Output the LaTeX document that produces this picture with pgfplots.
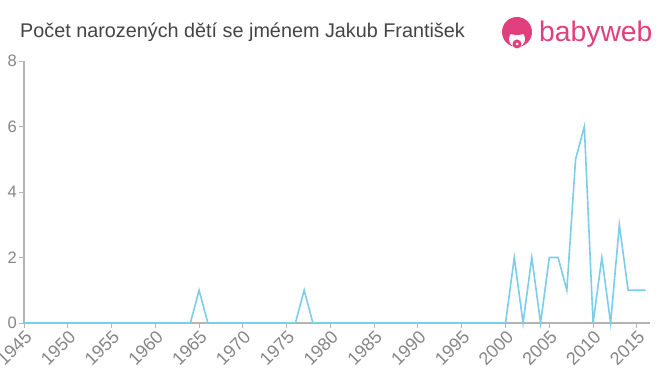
\documentclass[border=0pt]{standalone}
\usepackage{pgfplots}
\pgfplotsset{compat=1.18}
\usepackage{fontspec}
\setmainfont{Liberation Sans}
\definecolor{linec}{HTML}{7CCDEA}
\definecolor{axc}{HTML}{B4B4B4}
\definecolor{tickc}{HTML}{868686}
\definecolor{titc}{HTML}{444444}
\definecolor{pink}{HTML}{E0407E}
\newcommand\tf{\fontsize{18bp}{20bp}\selectfont}
\newcommand\yf{\fontsize{16.5bp}{18bp}\selectfont}
\begin{document}
\begin{tikzpicture}[x=1bp,y=1bp]
\begin{axis}[
  at={(24bp,52bp)}, anchor=south west,
  scale only axis, width=626bp, height=262bp,
  xmin=1945, xmax=2016.5, ymin=0, ymax=8,
  axis x line*=bottom, axis y line*=left,
  axis line style={axc, line width=1.2bp},
  xtick={1945,1950,...,2015}, ytick={0,2,4,6,8},
  xticklabels={{\tf 1945},{\tf 1950},{\tf 1955},{\tf 1960},{\tf 1965},{\tf 1970},{\tf 1975},{\tf 1980},{\tf 1985},{\tf 1990},{\tf 1995},{\tf 2000},{\tf 2005},{\tf 2010},{\tf 2015}},
  yticklabels={{\yf 0},{\yf 2},{\yf 4},{\yf 6},{\yf 8}},
  tick style={axc, line width=1bp},
  major tick length=5bp,
  tick align=outside,
  xticklabel style={rotate=45, anchor=north east, text=tickc, inner sep=1bp},
  yticklabel style={text=tickc, inner sep=2bp},
  clip=false,
]
\addplot[linec, line width=1.6bp] coordinates {
(1945,0)(1964,0)(1965,1)(1966,0)(1976,0)(1977,1)(1978,0)(2000,0)(2001,2)(2002,0)(2003,2)(2004,0)(2005,2)(2006,2)(2007,1)(2008,5)(2009,6)(2010,0)(2011,2)(2012,0)(2013,3)(2014,1)(2015,1)(2016,1)
};
\end{axis}
\node[anchor=west, text=titc, font=\fontsize{19.8bp}{22bp}\selectfont, inner sep=0] at (20bp,343bp) {Počet narozených dětí se jménem Jakub František};
\fill[pink] (517bp,343bp) circle (15bp);
\fill[white] (517bp,336bp) circle (8bp);
\fill[pink] (517bp,344bp) ellipse (9bp and 4bp);
\fill[pink] (517bp,331bp) circle (4.5bp);
\fill[white] (517bp,331bp) circle (1.5bp);
\node[anchor=base west, text=pink, font=\fontsize{28.3bp}{30bp}\selectfont, inner sep=0] at (539bp,333bp) {babyweb};
\pgfresetboundingbox
\path[use as bounding box] (0,0) rectangle (660bp,375bp);
\end{tikzpicture}
\end{document}
